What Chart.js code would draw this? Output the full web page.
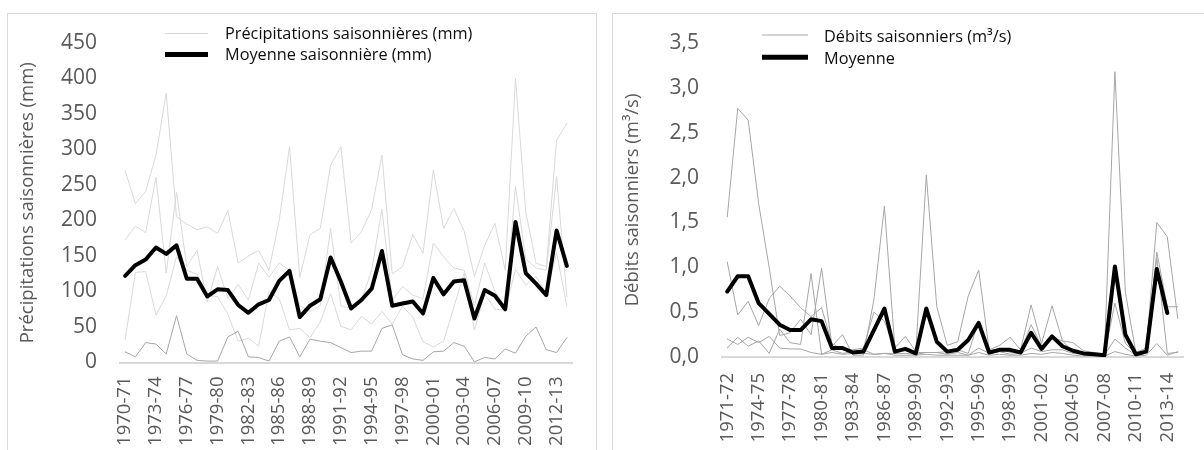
<!DOCTYPE html>
<html><head><meta charset="utf-8">
<script src="https://cdn.jsdelivr.net/npm/chart.js@4.4.1/dist/chart.umd.min.js"></script>
<style>
html,body{margin:0;padding:0;background:#fff;width:1204px;height:450px;overflow:hidden;position:relative;}
.frame{position:absolute;border:1px solid #d9d9d9;box-sizing:border-box;}
#f1{left:7px;top:13px;width:590px;height:470px;}
#f2{left:612px;top:13px;width:610px;height:470px;}
canvas{position:absolute;}
#c1{left:7px;top:13px;}
#c2{left:612px;top:13px;}
</style></head><body>
<div class="frame" id="f1"></div>
<div class="frame" id="f2"></div>
<canvas id="c1" width="589" height="437"></canvas>
<canvas id="c2" width="592" height="437"></canvas>
<script>
// ---------- Left chart: précipitations ----------
const precipYears = ['1970-71','1971-72','1972-73','1973-74','1974-75','1975-76','1976-77','1977-78','1978-79','1979-80','1980-81','1981-82','1982-83','1983-84','1984-85','1985-86','1986-87','1987-88','1988-89','1989-90','1990-91','1991-92','1992-93','1993-94','1994-95','1995-96','1996-97','1997-98','1998-99','1999-00','2000-01','2001-02','2002-03','2003-04','2004-05','2005-06','2006-07','2007-08','2008-09','2009-10','2010-11','2011-12','2012-13','2013-14'];
const precipShownTicks = ['1970-71','1973-74','1976-77','1979-80','1982-83','1985-86','1988-89','1991-92','1994-95','1997-98','2000-01','2003-04','2006-07','2009-10','2012-13'];
const precipSeasonA = [270,224,241,292,379,205,195,187,191,182,214,140,150,158,130,200,304,120,180,189,278,304,168,184,216,292,125,135,180,154,271,189,217,185,121,165,196,130,400,212,140,135,313,337];
const precipSeasonB = [173,192,183,261,126,240,135,158,85,135,90,110,88,140,120,140,130,80,72,80,189,80,76,87,130,216,88,107,95,90,168,149,133,130,80,140,100,77,248,146,133,130,262,93];
const precipSeasonC = [32,127,128,67,94,149,130,124,94,93,68,30,34,23,100,90,46,48,35,57,97,51,46,65,54,72,54,79,64,29,22,30,78,126,46,96,75,74,131,109,121,97,155,79];
const precipSeasonD = [15,8,28,26,12,66,12,3,2,2,36,44,8,7,2,30,36,8,33,30,28,21,14,16,16,48,53,11,5,3,15,16,28,23,1,7,5,19,13,37,50,18,14,35];
const precipMean = [122,137,145,162,153,165,118,118,93,103,102,81,70,82,88,115,129,64,80,89,148,114,76,88,104,157,80,83,86,69,119,96,114,116,62,102,94,75,198,126,111,95,186,136];
const precipYTicks = [0,50,100,150,200,250,300,350,400,450];

// ---------- Right chart: débits ----------
const flowYears = ['1971-72','1972-73','1973-74','1974-75','1975-76','1976-77','1977-78','1978-79','1979-80','1980-81','1981-82','1982-83','1983-84','1984-85','1985-86','1986-87','1987-88','1988-89','1989-90','1990-91','1991-92','1992-93','1993-94','1994-95','1995-96','1996-97','1997-98','1998-99','1999-00','2000-01','2001-02','2002-03','2003-04','2004-05','2005-06','2006-07','2007-08','2008-09','2009-10','2010-11','2011-12','2012-13','2013-14','2014-15'];
const flowShownTicks = ['1971-72','1974-75','1977-78','1980-81','1983-84','1986-87','1989-90','1992-93','1995-96','1998-99','2001-02','2004-05','2007-08','2010-11','2013-14'];
const flowSeasonP = [1.56,2.77,2.64,1.71,1.00,0.24,0.27,0.42,0.25,0.99,0.12,0.25,0.02,0.02,0.64,1.68,0.10,0.23,0.06,2.03,0.56,0.13,0.17,0.68,0.97,0.08,0.13,0.22,0.08,0.58,0.15,0.57,0.18,0.16,0.07,0.05,0.03,3.18,0.72,0.05,0.10,1.50,1.34,0.43];
const flowSeasonQ = [1.06,0.47,0.62,0.35,0.65,0.79,0.68,0.55,0.45,0.55,0.15,0.08,0.08,0.10,0.50,0.40,0.08,0.07,0.05,0.05,0.05,0.06,0.08,0.04,0.40,0.06,0.10,0.05,0.06,0.36,0.12,0.22,0.18,0.06,0.05,0.04,0.02,0.60,0.15,0.04,0.07,1.17,0.56,0.56];
const flowSeasonR = [0.10,0.22,0.12,0.18,0.04,0.31,0.16,0.14,0.93,0.03,0.08,0.04,0.06,0.08,0.03,0.04,0.04,0.04,0.03,0.05,0.05,0.03,0.05,0.02,0.10,0.04,0.06,0.03,0.04,0.10,0.06,0.08,0.08,0.04,0.03,0.02,0.02,0.20,0.10,0.02,0.05,1.10,0.04,0.05];
const flowSeasonS = [0.20,0.14,0.22,0.16,0.23,0.10,0.09,0.09,0.05,0.03,0.05,0.03,0.04,0.04,0.03,0.04,0.02,0.02,0.02,0.03,0.02,0.02,0.02,0.02,0.05,0.02,0.03,0.02,0.02,0.04,0.03,0.05,0.04,0.02,0.01,0.01,0.01,0.06,0.03,0.01,0.02,0.15,0.02,0.06];
const flowMean = [0.73,0.90,0.90,0.60,0.48,0.36,0.30,0.30,0.42,0.40,0.10,0.10,0.05,0.06,0.30,0.54,0.06,0.09,0.04,0.54,0.17,0.06,0.08,0.19,0.38,0.05,0.08,0.08,0.05,0.27,0.09,0.23,0.12,0.07,0.04,0.03,0.02,1.01,0.25,0.03,0.06,0.98,0.49,null];
const flowYTicks = [0,0.5,1,1.5,2,2.5,3,3.5];

Chart.defaults.font.family = "'Open Sans', 'Noto Sans', sans-serif";
Chart.defaults.color = '#595959';

const refLegend = {
  id: 'refLegend',
  afterDraw(chart, args, opts) {
    if (!opts || !opts.items) return;
    const ctx = chart.ctx;
    ctx.save();
    opts.items.forEach(it => {
      const ds = chart.data.datasets[it.dataset];
      ctx.strokeStyle = ds.borderColor;
      ctx.lineWidth = it.lineWidth;
      ctx.lineCap = 'butt';
      ctx.beginPath();
      ctx.moveTo(opts.x, it.y);
      ctx.lineTo(opts.x + opts.len, it.y);
      ctx.stroke();
      ctx.fillStyle = opts.color;
      ctx.font = opts.font;
      ctx.textBaseline = 'middle';
      ctx.textAlign = 'left';
      ctx.fillText(ds.label, opts.x + opts.len + opts.gap, it.ty);
    });
    ctx.restore();
  }
};

function lineDs(label, data, color, width, order) {
  return {label, data, borderColor: color, backgroundColor: color, borderWidth: width,
    pointRadius: 0, pointHoverRadius: 0, tension: 0, fill: false, order,
    borderJoinStyle: 'round', borderCapStyle: 'round', spanGaps: false};
}

function makeChart(id, cfg) {
  return new Chart(document.getElementById(id), {
    type: 'line',
    data: {labels: cfg.labels, datasets: cfg.datasets},
    options: {
      responsive: false, animation: false, events: [],
      layout: {padding: {left: 0, right: cfg.padRight, top: cfg.padTop, bottom: 0}},
      plugins: {legend: {display: false}, tooltip: {enabled: false}, refLegend: cfg.legend},
      scales: {
        x: {
          type: 'category', offset: true,
          grid: {display: false, drawTicks: false},
          border: {display: true, color: '#d9d9d9', width: 2},
          ticks: {autoSkip: false, maxRotation: 90, minRotation: 90, padding: cfg.xPad,
            color: '#595959', font: {size: 18.5},
            callback(v) { const l = this.getLabelForValue(v); return cfg.shown.includes(l) ? l : ''; }},
          afterFit(s) { s.height = cfg.xHeight; s.paddingLeft = 0; s.paddingRight = 0; }
        },
        y: {
          min: cfg.yTicks[0], max: cfg.yTicks[cfg.yTicks.length - 1],
          afterBuildTicks(s) { s.ticks = cfg.yTicks.map(v => ({value: v})); },
          grid: {display: false, drawTicks: false},
          border: {display: false},
          ticks: {padding: 23, color: '#595959', font: {size: 21}, callback: cfg.yFmt},
          title: {display: true, text: cfg.yTitle, color: '#595959', font: {size: 18.5}, padding: {top: cfg.titlePad, bottom: 0}},
          afterFit(s) { s.width = cfg.yWidth; s.paddingTop = 0; s.paddingBottom = 0; }
        }
      }
    },
    plugins: [refLegend]
  });
}

makeChart('c1', {
  labels: precipYears, shown: precipShownTicks, yTicks: precipYTicks,
  padRight: 24, padTop: 30, xHeight: 87.5, xPad: 14, yWidth: 113, titlePad: 10,
  yTitle: 'Précipitations saisonnières (mm)',
  yFmt: v => String(v),
  datasets: [
    lineDs('Moyenne saisonnière (mm)', precipMean, '#000000', 4, 0),
    lineDs('Précipitations saisonnières (mm)', precipSeasonA, '#d9d9d9', 1, 2),
    lineDs('Précipitations saisonnières (mm)', precipSeasonB, '#d9d9d9', 1, 2),
    lineDs('Précipitations saisonnières (mm)', precipSeasonC, '#d9d9d9', 1, 2),
    lineDs('Précipitations saisonnières (mm)', precipSeasonD, '#a6a6a6', 1, 1)
  ],
  legend: {x: 158, len: 43, gap: 17, color: '#0d0d0d', font: "16.3px 'Open Sans'",
    items: [{dataset: 1, y: 20.5, ty: 21.5, lineWidth: 1}, {dataset: 0, y: 41.5, ty: 42.5, lineWidth: 5}]}
});

makeChart('c2', {
  labels: flowYears, shown: flowShownTicks, yTicks: flowYTicks,
  padRight: 21, padTop: 30, xHeight: 93, xPad: 16, yWidth: 110, titlePad: 10,
  yTitle: 'Débits saisonniers (m³/s)',
  yFmt: v => v.toFixed(1).replace('.', ','),
  datasets: [
    lineDs('Moyenne', flowMean, '#000000', 4, 0),
    lineDs('Débits saisonniers (m³/s)', flowSeasonP, '#a6a6a6', 1, 1),
    lineDs('Débits saisonniers (m³/s)', flowSeasonQ, '#a6a6a6', 1, 1),
    lineDs('Débits saisonniers (m³/s)', flowSeasonR, '#a6a6a6', 1, 1),
    lineDs('Débits saisonniers (m³/s)', flowSeasonS, '#a6a6a6', 1, 1)
  ],
  legend: {x: 150, len: 46, gap: 16, color: '#0d0d0d', font: "16.3px 'Open Sans'",
    items: [{dataset: 1, y: 22, ty: 24, lineWidth: 1}, {dataset: 0, y: 44.3, ty: 46, lineWidth: 5}]}
});
</script>
</body></html>
